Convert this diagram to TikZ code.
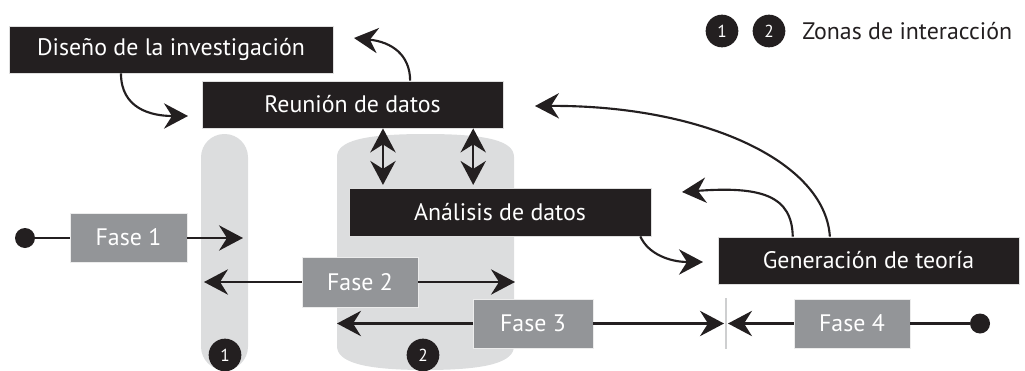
\documentclass[tikz,border=0pt]{standalone}
\usepackage{fontspec}
\setmainfont{PT Sans}
\usetikzlibrary{arrows.meta,calc}
\definecolor{boxblack}{HTML}{231F20}
\definecolor{fasegray}{HTML}{939598}
\definecolor{zonegray}{HTML}{DCDDDE}
\begin{document}
\begin{tikzpicture}[x=0.75pt,y=-0.75pt,
  arr/.style={line width=1.6pt,draw=boxblack,-{Stealth[length=18pt,width=19pt,inset=6pt]}},
  dbl/.style={line width=1.6pt,draw=boxblack,{Stealth[length=18pt,width=19pt,inset=6pt]}-{Stealth[length=18pt,width=19pt,inset=6pt]}},
  blk/.style 2 args={fill=boxblack,draw=white!75!gray,line width=0.6pt,text=white,
    minimum width=#1*0.75pt,minimum height=#2*0.75pt,inner sep=0pt,
    font=\fontsize{17.9}{21}\selectfont},
  fase/.style 2 args={fill=fasegray,draw=white!85!gray,line width=0.6pt,text=white,
    minimum width=#1*0.75pt,minimum height=#2*0.75pt,inner sep=0pt,
    font=\fontsize{17.9}{21}\selectfont},
  zone/.style={fill=zonegray},
  num/.style={circle,fill=boxblack,text=white,minimum size=24.5pt,inner sep=0pt,
    font=\fontsize{13}{15}\selectfont},
  dot/.style={circle,fill=boxblack,minimum size=15pt,inner sep=0pt},
]
\useasboundingbox (0,0) rectangle (1025,371);
% zones
\fill[zone,rounded corners=17.5pt] (201,134) rectangle (248,370);
\fill[zone] (337,346) -- (337,157) .. controls (337,141) and (363,134) .. (425.5,134)
  .. controls (488,134) and (514,141) .. (514,157) -- (514,346)
  .. controls (514,362) and (488,370) .. (425.5,370)
  .. controls (363,370) and (337,362) .. (337,346) -- cycle;
% boxes
\node[blk={324}{47}] (dis) at (171,49.5) {Diseño de la investigación};
\node[blk={301}{47}] (reu) at (352.5,104.5) {Reunión de datos};
\node[blk={302}{48}] (ana) at (500,212) {Análisis de datos};
\node[blk={301}{47}] (gen) at (868.5,260.5) {Generación de teoría};
\node[fase={117}{49}] (f1) at (128.5,237.5) {Fase 1};
\node[fase={116}{50}] (f2) at (360,282) {Fase 2};
\node[fase={120}{49}] (f3) at (533,323.5) {Fase 3};
\node[fase={116}{49}] (f4) at (852,323.5) {Fase 4};
% zone numbers
\node[num] (z1) at (225,355) {1};
\node[num] (z2) at (423,355) {2};
% legend
\node[num] (l1) at (722,31) {1};
\node[num] (l2) at (769,31) {2};
\node[anchor=west,inner sep=0pt,text=boxblack,font=\fontsize{17.9}{21}\selectfont] (leg) at (802,31) {Zonas de interacción};
% dots
\node[dot] (d1) at (25,238) {};
\node[dot] (d4) at (980,323.5) {};
% phase arrows
\coordinate (e1) at (243,238);
\coordinate (e2l) at (204,282);
\coordinate (e2r) at (515,282);
\coordinate (e3l) at (337,323.5);
\coordinate (e3r) at (724,323.5);
\coordinate (e4l) at (728,323.5);
\draw[line width=1.6pt,boxblack] (d1) -- (d1 -| f1.west);
\draw[arr] (f1.east |- e1) -- (e1);
\draw[arr] (f2.west) -- (e2l);
\draw[arr] (f2.east) -- (e2r);
\draw[arr] (f3.west) -- (e3l);
\draw[arr] (f3.east) -- (e3r);
\draw[arr] (f4.west) -- (e4l);
\draw[line width=1.6pt,boxblack] (f4.east) -- (d4);
\coordinate (sepT) at (726,298);
\coordinate (sepB) at (726,349);
\draw[line width=0.8pt,zonegray!85!gray] (sepT) -- (sepB);
% double arrows
\coordinate (r1) at ($(reu.south west)!0.601!(reu.south east)$);
\coordinate (r2) at ($(reu.south west)!0.90!(reu.south east)$);
\draw[dbl,shorten >=2pt] (r1) -- (r1 |- ana.north);
\draw[dbl,shorten >=2pt] (r2) -- (r2 |- ana.north);
% curved arrows
\coordinate (s1) at ($(dis.south west)!0.346!(dis.south east)$);
\coordinate (t1) at (188,116);
\draw[arr] (s1) .. controls (121,108) and (150,116) .. (t1);
\coordinate (s2) at ($(reu.north west)!0.691!(reu.north east)$);
\coordinate (t2) at (354,38);
\draw[arr] (s2) .. controls (410,55) and (392,42) .. (t2);
\coordinate (s3) at ($(gen.north west)!0.372!(gen.north east)$);
\coordinate (t3) at (535,106);
\draw[arr] (s3) .. controls (825,160) and (700,105) .. (t3);
\coordinate (s4) at ($(gen.north west)!0.249!(gen.north east)$);
\coordinate (t4) at (682,192);
\draw[arr] (s4) .. controls (792,196) and (762,186) .. (t4);
\coordinate (s5) at ($(ana.south west)!0.9636!(ana.south east)$);
\coordinate (t5) at (703,262);
\draw[arr] (s5) .. controls (648,254) and (670,262) .. (t5);
\end{tikzpicture}
\end{document}
